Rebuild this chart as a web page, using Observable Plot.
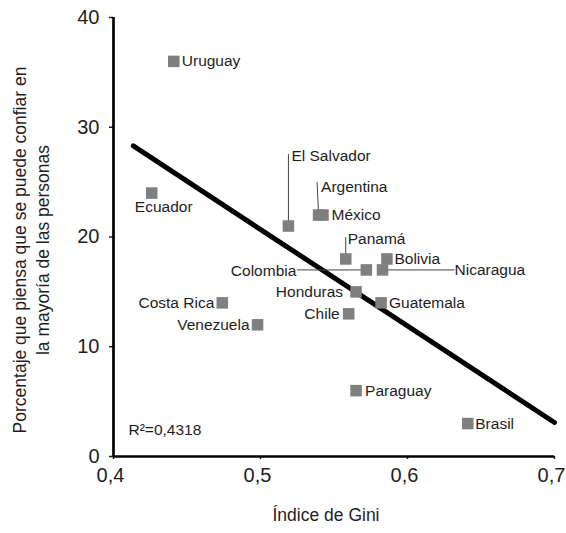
<!DOCTYPE html>
<html>
<head>
<meta charset="utf-8">
<script src="https://cdn.jsdelivr.net/npm/d3@7"></script>
<script src="https://cdn.jsdelivr.net/npm/@observablehq/plot@0.6"></script>
<style>
  html, body { margin: 0; padding: 0; background: #fff; }
</style>
</head>
<body>
<div id="chart"></div>
<script>
// ---- data ----
const countries = ["Uruguay","Ecuador","El Salvador","Argentina","México","Panamá","Bolivia","Colombia","Nicaragua","Honduras","Guatemala","Chile","Costa Rica","Venezuela","Paraguay","Brasil"];
const gini  = [0.441, 0.426, 0.519, 0.5395, 0.5425, 0.558, 0.586, 0.572, 0.583, 0.565, 0.582, 0.560, 0.474, 0.498, 0.565, 0.641];
const trust = [36, 24, 21, 22, 22, 18, 18, 17, 17, 15, 14, 13, 14, 12, 6, 3];

const trendGini  = [0.4135, 0.70];
const trendTrust = [28.3, 3.1];

const xTicks = [0.4, 0.5, 0.6, 0.7];
const yTicks = [0, 10, 20, 30, 40];

const xTitle = "Índice de Gini";
const yTitle = "Porcentaje que piensa que se puede confiar en\nla mayoría de las personas";
const r2Text = "R²=0,4318";

// leader line ends (data units)
const leaderNames = ["El Salvador", "Argentina", "Panamá", "Colombia", "Nicaragua"];
const leaderGini  = [0.519, 0.5385, 0.558, 0.5248, 0.632];
const leaderTrust = [27.55, 25.0, 20.0, 17, 17];

// label placement: [textAnchor, dx, dy] in px
const labelLayout = {
  "Uruguay": ["start", 8, 0],
  "Ecuador": ["middle", 12, 14],
  "El Salvador": ["start", 3, -70],
  "Argentina": ["start", 2.5, -28],
  "México": ["start", 8.5, 0],
  "Panamá": ["start", 2, -20],
  "Bolivia": ["start", 7.5, 0],
  "Colombia": ["end", -70, 1],
  "Nicaragua": ["start", 72, 0.5],
  "Honduras": ["end", -13, 0],
  "Guatemala": ["start", 8, 0],
  "Chile": ["end", -9, 0],
  "Costa Rica": ["end", -8, 0],
  "Venezuela": ["end", -8, 0],
  "Paraguay": ["start", 9, 0],
  "Brasil": ["start", 7.5, 0]
};

const points = countries.map((c, i) => ({country: c, gini: gini[i], trust: trust[i]}));
const trend = trendGini.map((g, i) => ({gini: g, trust: trendTrust[i]}));
const leaders = leaderNames.map((n, i) => {
  const p = points.find(d => d.country === n);
  return {x1: p.gini, y1: p.trust, x2: leaderGini[i], y2: leaderTrust[i]};
});

const fmt = d => d.toFixed(1).replace(".", ",");
const textColor = "#1e1e1e";

const labelMarks = points.map(p => {
  const [anchor, dx, dy] = labelLayout[p.country];
  return Plot.text([p], {x: "gini", y: "trust", text: "country", textAnchor: anchor, dx, dy, fontSize: 15.5, fill: textColor});
});

const chart = Plot.plot({
  width: 566,
  height: 533,
  marginLeft: 113,
  marginRight: 12,
  marginTop: 17,
  marginBottom: 77,
  style: {fontFamily: "'Liberation Sans', Arial, sans-serif", background: "#fff", color: textColor},
  x: {domain: [0.4, 0.7]},
  y: {domain: [0, 40]},
  marks: [
    Plot.axisX({ticks: xTicks, tickFormat: fmt, tickSize: 3, tickPadding: 8, fontSize: 20, label: null, strokeWidth: 1.5, text: null}),
    Plot.axisX({ticks: xTicks, tickFormat: fmt, tickSize: 0, tickPadding: 11, fontSize: 20, label: null, dx: -3}),
    Plot.axisY({ticks: yTicks, tickSize: 4, tickPadding: 10, fontSize: 20, label: null, strokeWidth: 1.5}),
    Plot.ruleY([0], {stroke: "#000", strokeWidth: 2.7}),
    Plot.ruleX([0.4], {stroke: "#000", strokeWidth: 2.7}),
    Plot.text([xTitle], {text: d => d, frameAnchor: "bottom", dx: -8, dy: 64, fontSize: 17.5, fill: textColor}),
    Plot.text([yTitle], {text: d => d, frameAnchor: "left", textAnchor: "middle", lineAnchor: "middle", rotate: -90, dx: -83, dy: 13, fontSize: 17.5, lineHeight: 1.3, fill: textColor}),
    Plot.line(trend, {x: "gini", y: "trust", stroke: "#000", strokeWidth: 5}),
    Plot.link(leaders, {x1: "x1", y1: "y1", x2: "x2", y2: "y2", stroke: "#444", strokeWidth: 1}),
    Plot.dot(points, {x: "gini", y: "trust", symbol: "square", r: 6.5, fill: "#7f7f7f", stroke: null}),
    ...labelMarks,
    Plot.text([r2Text], {text: d => d, frameAnchor: "bottom-left", textAnchor: "start", dx: 15, dy: -22, fontSize: 15.5, fill: textColor})
  ]
});

document.getElementById("chart").appendChild(chart);
</script>
</body>
</html>
